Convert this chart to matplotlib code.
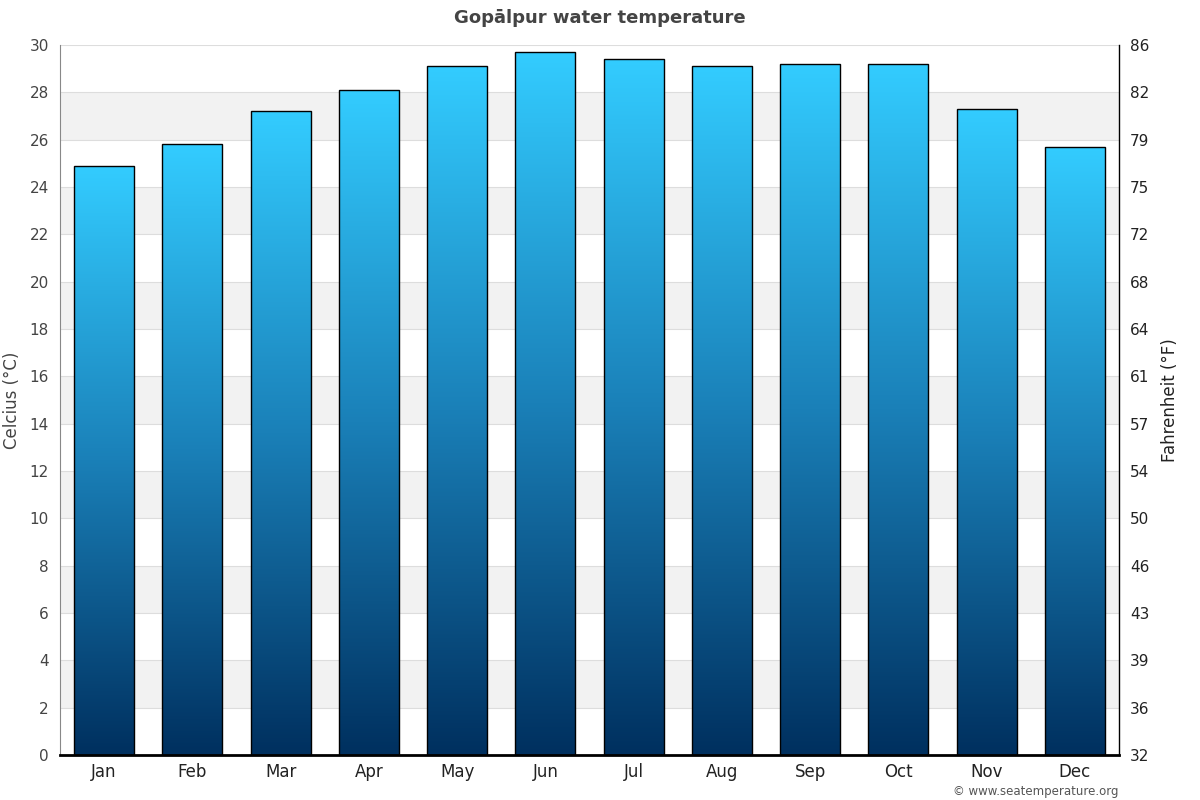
import os
import matplotlib
matplotlib.use("Agg")
import matplotlib.pyplot as plt
from matplotlib import font_manager
import numpy as np
from matplotlib.colors import LinearSegmentedColormap

ttf_dir = os.path.join(matplotlib.get_data_path(), "fonts", "ttf")
for fn in ["DejaVuSans.ttf", "DejaVuSans-Bold.ttf"]:
    p = os.path.join(ttf_dir, fn)
    if os.path.exists(p):
        font_manager.fontManager.addfont(p)
print(font_manager.findfont("DejaVu Sans"))
plt.rcParams["font.family"] = ["DejaVu Sans"]

months = ["Jan", "Feb", "Mar", "Apr", "May", "Jun",
          "Jul", "Aug", "Sep", "Oct", "Nov", "Dec"]
temps_c = [24.9, 25.8, 27.2, 28.1, 29.1, 29.7, 29.4, 29.1, 29.2, 29.2, 27.3, 25.7]
c_ticks = list(range(0, 31, 2))
f_labels = [str(int(round(c * 9 / 5 + 32))) for c in c_ticks]

cmap = LinearSegmentedColormap.from_list("sea", ["#00305f", "#1a80b8", "#33ccff"])

fig = plt.figure(figsize=(12, 8), dpi=100)
ax = fig.add_axes([0.05, 0.05625, 0.8825, 0.8875])

# alternating bands
for lo in range(2, 30, 4):
    ax.axhspan(lo, lo + 2, color="#f2f2f2", zorder=0, lw=0)
for t in c_ticks[1:]:
    ax.axhline(t, color="#dddddd", lw=0.8, zorder=0.5)

bars = ax.bar(range(len(months)), temps_c, width=0.68,
              facecolor="none", edgecolor="black", linewidth=1, zorder=3)
grad = np.linspace(0, 1, 256).reshape(-1, 1)
for b in bars:
    x0, w, h = b.get_x(), b.get_width(), b.get_height()
    im = ax.imshow(grad, cmap=cmap, origin="lower", aspect="auto",
                   extent=[x0, x0 + w, 0, h], zorder=2)
    im.set_clip_path(b)

ax.set_xlim(-0.5, len(months) - 0.5)
ax.set_ylim(0, 30)
ax.set_xticks(range(len(months)))
ax.set_xticklabels(months, fontsize=12, color="#222222")
ax.set_yticks(c_ticks)
ax.tick_params(axis="y", labelsize=11, labelcolor="#444444", length=0, pad=8)
ax.tick_params(axis="x", length=0, pad=6)
ax.set_ylabel("Celcius (°C)", fontsize=12, color="#444444", labelpad=6)

for s in ["top", "right"]:
    ax.spines[s].set_visible(False)
ax.spines["left"].set_color("#888888")
ax.spines["bottom"].set_color("black")
ax.spines["bottom"].set_linewidth(2)
ax.spines["bottom"].set_zorder(5)

ax2 = ax.twinx()
ax2.set_ylim(0, 30)
ax2.set_yticks(c_ticks)
ax2.set_yticklabels(f_labels)
ax2.tick_params(axis="y", labelsize=11, labelcolor="#222222", length=0, pad=8)
ax2.set_ylabel("Fahrenheit (°F)", fontsize=12, color="#222222", labelpad=8)
for s in ["top", "left", "bottom"]:
    ax2.spines[s].set_visible(False)
ax2.spines["right"].set_color("black")
ax2.spines["right"].set_linewidth(1)

fig.text(0.5, 0.977, "Gopālpur water temperature", ha="center", va="center",
         fontsize=13, fontweight="bold", color="#444444")
fig.text(0.932, 0.011, "© www.seatemperature.org", ha="right", va="center",
         fontsize=8.5, color="#555555")

fig.savefig("out.png", dpi=100)
